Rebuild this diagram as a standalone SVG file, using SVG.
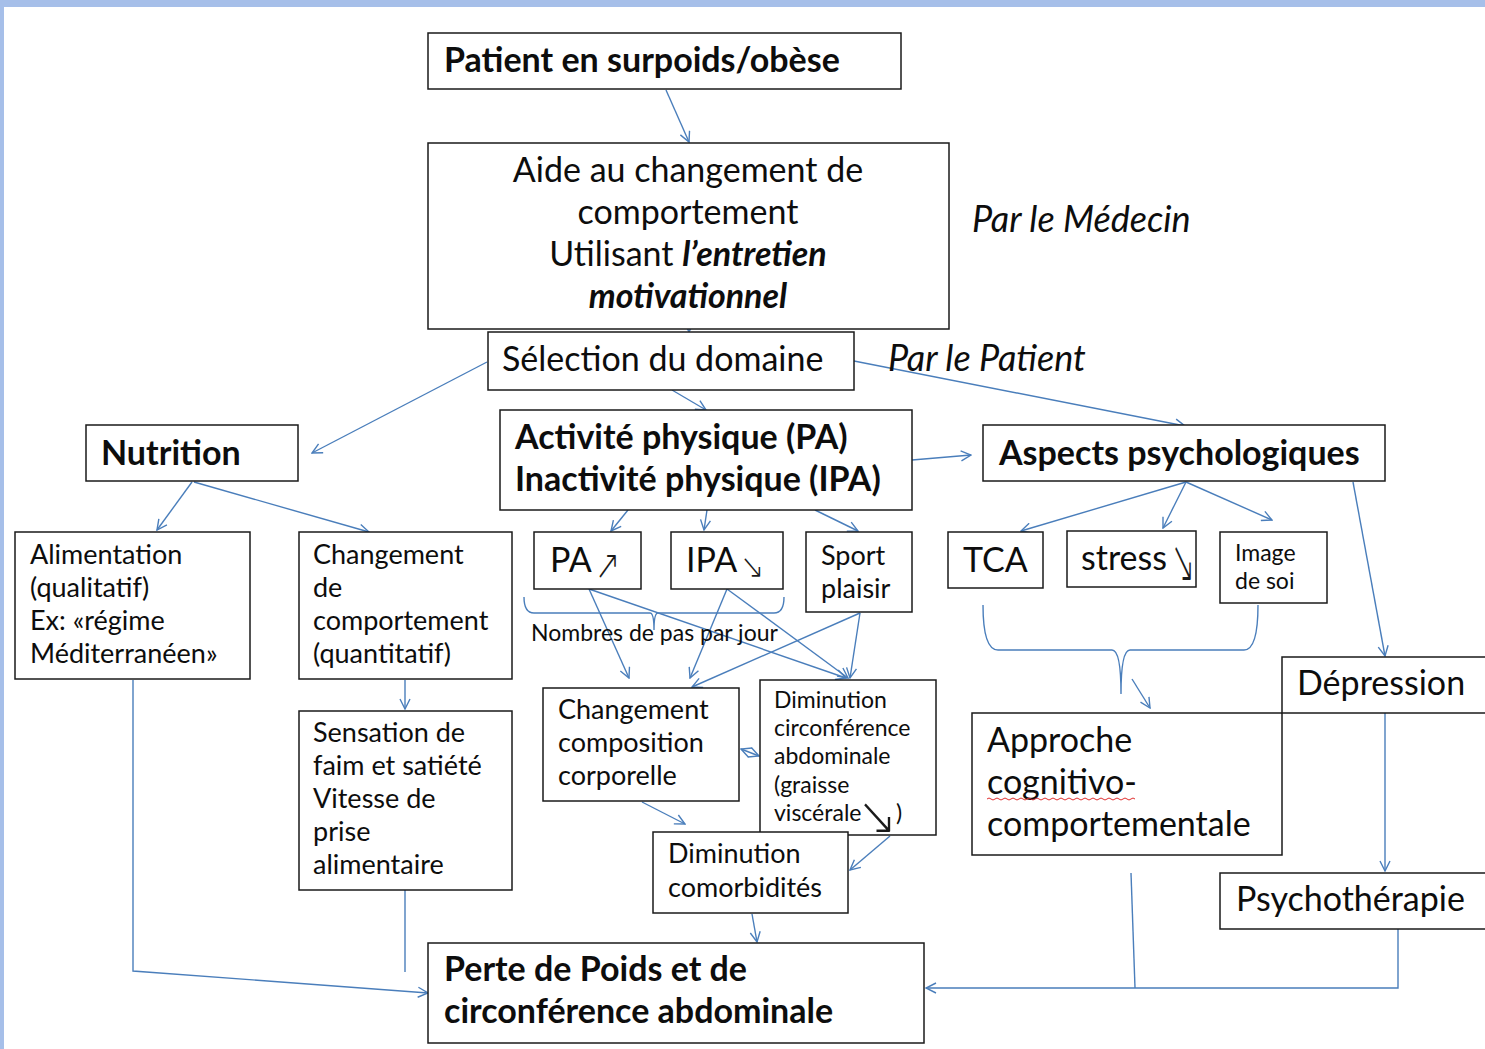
<svg xmlns="http://www.w3.org/2000/svg" width="1485" height="1049" viewBox="0 0 1485 1049">
<style>
.b{fill:#fff;stroke:#1a1a1a;stroke-width:1.5}
.t{font-family:Lato,"Liberation Sans",sans-serif;fill:#0d0d0d}
.l{font-size:34px}
.m{font-size:27px}
.s{font-size:23px}
.bd{font-weight:bold}
.it{font-style:italic;font-size:36px}
.c{fill:none;stroke:#4a7ebb;stroke-width:1.4}
.sym{font-family:"DejaVu Sans",sans-serif;font-weight:200;fill:#1a1a1a}
</style>
<defs>
<marker id="a" markerWidth="12" markerHeight="12" refX="11" refY="6" orient="auto" markerUnits="userSpaceOnUse">
<path d="M1,1 L11,6 L1,11" fill="none" stroke="#4a7ebb" stroke-width="1.4"/>
</marker>
<marker id="as" markerWidth="12" markerHeight="12" refX="1" refY="6" orient="auto" markerUnits="userSpaceOnUse">
<path d="M11,1 L1,6 L11,11" fill="none" stroke="#4a7ebb" stroke-width="1.4"/>
</marker>
</defs>
<rect width="1485" height="1049" fill="#fff"/>
<rect x="0" y="0" width="1485" height="7" fill="#a6bfe9"/>
<rect x="0" y="0" width="4" height="1049" fill="#a6bfe9"/>

<g id="connectors">
<line class="c" x1="666" y1="90" x2="689" y2="142" marker-end="url(#a)"/>
<line class="c" x1="689" y1="318" x2="689" y2="332" marker-end="url(#a)"/>
<line class="c" x1="487" y1="362" x2="312" y2="453" marker-end="url(#a)"/>
<line class="c" x1="672" y1="390" x2="706" y2="410" marker-end="url(#a)"/>
<line class="c" x1="854" y1="361" x2="1185" y2="426" marker-end="url(#a)"/>
<line class="c" x1="912" y1="460" x2="971" y2="455" marker-end="url(#a)"/>
<line class="c" x1="192" y1="482" x2="157" y2="530" marker-end="url(#a)"/>
<line class="c" x1="194" y1="482" x2="369" y2="532" marker-end="url(#a)"/>
<line class="c" x1="628" y1="510" x2="611" y2="531" marker-end="url(#a)"/>
<line class="c" x1="707" y1="510" x2="704" y2="530" marker-end="url(#a)"/>
<line class="c" x1="815" y1="510" x2="858" y2="531" marker-end="url(#a)"/>
<line class="c" x1="1186" y1="482" x2="1021" y2="531" marker-end="url(#a)"/>
<line class="c" x1="1186" y1="482" x2="1163" y2="528" marker-end="url(#a)"/>
<line class="c" x1="1186" y1="482" x2="1272" y2="520" marker-end="url(#a)"/>
<line class="c" x1="1353" y1="482" x2="1385" y2="656" marker-end="url(#a)"/>
<line class="c" x1="405" y1="680" x2="405" y2="709" marker-end="url(#a)"/>
<path class="c" d="M524,597 Q524,613 534,613 L650,613 Q654,613 654,630 Q654,613 658,613 L774,613 Q784,613 784,597"/>
<line class="c" x1="589" y1="589" x2="629" y2="678" marker-end="url(#a)"/>
<line class="c" x1="589" y1="589" x2="846" y2="678" marker-end="url(#a)"/>
<line class="c" x1="727" y1="589" x2="690" y2="678" marker-end="url(#a)"/>
<line class="c" x1="727" y1="589" x2="848" y2="678" marker-end="url(#a)"/>
<line class="c" x1="860" y1="613" x2="692" y2="687" marker-end="url(#a)"/>
<line class="c" x1="860" y1="613" x2="850" y2="678" marker-end="url(#a)"/>
<line class="c" x1="741" y1="749" x2="759" y2="756" marker-start="url(#as)" marker-end="url(#a)"/>
<line class="c" x1="642" y1="802" x2="685" y2="824" marker-end="url(#a)"/>
<line class="c" x1="890" y1="836" x2="850" y2="870" marker-end="url(#a)"/>
<line class="c" x1="752" y1="914" x2="757" y2="942" marker-end="url(#a)"/>
<polyline class="c" points="133,680 133,971 428,993" marker-end="url(#a)"/>
<line class="c" x1="405" y1="890" x2="405" y2="972"/>
<path class="c" d="M983,605 Q983,650 998,650 L1112,650 Q1121,650 1121,694 Q1121,650 1130,650 L1244,650 Q1258,650 1258,605"/>
<line class="c" x1="1132" y1="679" x2="1150" y2="708" marker-end="url(#a)"/>
<line class="c" x1="1131" y1="873" x2="1135" y2="988"/>
<polyline class="c" points="1398,929 1398,988 926,988" marker-end="url(#a)"/>
<line class="c" x1="1385" y1="713" x2="1385" y2="871" marker-end="url(#a)"/>
</g>

<g id="patient"><rect class="b" x="428" y="33" width="473" height="56"/>
<text class="t l bd" x="444" y="72">Patient en surpoids/obèse</text></g>

<g id="aide"><rect class="b" x="428" y="143" width="521" height="186"/>
<text class="t l" text-anchor="middle" x="688" y="182">Aide au changement de</text>
<text class="t l" text-anchor="middle" x="688" y="224">comportement</text>
<text class="t l" text-anchor="middle" x="688" y="266">Utilisant <tspan font-weight="bold" font-style="italic">l’entretien</tspan></text>
<text class="t l bd" font-style="italic" text-anchor="middle" x="688" y="308">motivationnel</text></g>

<text id="par-medecin" class="t it" x="972" y="232">Par le Médecin</text>

<g id="selection"><rect class="b" x="488" y="332" width="366" height="58"/>
<text class="t l" x="502" y="371">Sélection du domaine</text></g>

<text id="par-patient" class="t it" x="888" y="371">Par le Patient</text>

<g id="nutrition"><rect class="b" x="86" y="425" width="212" height="56"/>
<text class="t l bd" x="101" y="465">Nutrition</text></g>

<g id="activite"><rect class="b" x="500" y="410" width="412" height="100"/>
<text class="t l bd" x="515" y="449">Activité physique (PA)</text>
<text class="t l bd" x="515" y="491">Inactivité physique (IPA)</text></g>

<g id="aspects"><rect class="b" x="983" y="425" width="402" height="56"/>
<text class="t l bd" x="999" y="465">Aspects psychologiques</text></g>

<g id="alimentation"><rect class="b" x="15" y="532" width="235" height="147"/>
<text class="t m" x="30" y="564">Alimentation</text>
<text class="t m" x="30" y="597">(qualitatif)</text>
<text class="t m" x="30" y="630">Ex: «régime</text>
<text class="t m" x="30" y="663">Méditerranéen»</text></g>

<g id="chgt-comportement"><rect class="b" x="299" y="532" width="213" height="147"/>
<text class="t m" x="313" y="564">Changement</text>
<text class="t m" x="313" y="597">de</text>
<text class="t m" x="313" y="630">comportement</text>
<text class="t m" x="313" y="663">(quantitatif)</text></g>

<g id="pa"><rect class="b" x="534" y="532" width="107" height="57"/>
<text class="t l" x="550" y="572">PA</text>
<text class="sym" font-size="40" transform="translate(595,579) scale(0.75,1.05)">↗</text></g>

<g id="ipa"><rect class="b" x="671" y="532" width="112" height="57"/>
<text class="t l" x="686" y="572">IPA</text>
<text class="sym" font-size="34" transform="translate(740,578) scale(0.85,1)">↘</text></g>

<g id="sport"><rect class="b" x="806" y="532" width="106" height="80"/>
<text class="t m" x="821" y="565">Sport</text>
<text class="t m" x="821" y="598">plaisir</text></g>

<g id="tca"><rect class="b" x="948" y="532" width="95" height="56"/>
<text class="t l" x="963" y="572">TCA</text></g>

<g id="stress"><rect class="b" x="1067" y="531" width="129" height="56"/>
<text class="t l" x="1081" y="570">stress</text>
<text class="sym" font-size="38" transform="translate(1171,582) scale(0.75,1.6)">↘</text></g>

<g id="image"><rect class="b" x="1220" y="532" width="107" height="71"/>
<text class="t s" x="1235" y="561">Image</text>
<text class="t s" x="1235" y="589">de soi</text></g>

<text id="nombres" class="t" font-size="23" x="531" y="641">Nombres de pas par jour</text>

<g id="composition"><rect class="b" x="543" y="688" width="196" height="113"/>
<text class="t m" x="558" y="719">Changement</text>
<text class="t m" x="558" y="752">composition</text>
<text class="t m" x="558" y="785">corporelle</text></g>

<g id="circonference"><rect class="b" x="760" y="680" width="176" height="155"/>
<text class="t s" x="774" y="708">Diminution</text>
<text class="t s" x="774" y="736">circonférence</text>
<text class="t s" x="774" y="764">abdominale</text>
<text class="t s" x="774" y="793">(graisse</text>
<text class="t s" x="774" y="821">viscérale</text>
<text class="sym" font-size="48" transform="translate(857,834) scale(1,1.1)">↘</text>
<text class="t s" x="896" y="821">)</text></g>

<g id="comorbidites"><rect class="b" x="653" y="832" width="195" height="81"/>
<text class="t m" x="668" y="863">Diminution</text>
<text class="t m" x="668" y="897">comorbidités</text></g>

<g id="sensation"><rect class="b" x="299" y="711" width="213" height="179"/>
<text class="t m" x="313" y="742">Sensation de</text>
<text class="t m" x="313" y="775">faim et satiété</text>
<text class="t m" x="313" y="808">Vitesse de</text>
<text class="t m" x="313" y="841">prise</text>
<text class="t m" x="313" y="874">alimentaire</text></g>

<g id="approche"><rect class="b" x="972" y="713" width="310" height="142"/>
<text class="t l" x="987" y="752">Approche</text>
<text class="t l" x="987" y="794">cognitivo-</text>
<path d="M987,799 q2,-2 4,0 t4,0 t4,0 t4,0 t4,0 t4,0 t4,0 t4,0 t4,0 t4,0 t4,0 t4,0 t4,0 t4,0 t4,0 t4,0 t4,0 t4,0 t4,0 t4,0 t4,0 t4,0 t4,0 t4,0 t4,0 t4,0 t4,0 t4,0 t4,0 t4,0 t4,0 t4,0 t4,0 t4,0 t4,0 t4,0 t4,0" fill="none" stroke="#e03030" stroke-width="1"/>
<text class="t l" x="987" y="836">comportementale</text></g>

<g id="depression"><rect class="b" x="1282" y="657" width="210" height="56"/>
<text class="t l" x="1297" y="695">Dépression</text></g>

<g id="psychotherapie"><rect class="b" x="1220" y="873" width="272" height="56"/>
<text class="t l" x="1236" y="911">Psychothérapie</text></g>

<g id="perte"><rect class="b" x="428" y="943" width="496" height="100"/>
<text class="t l bd" x="444" y="981">Perte de Poids et de</text>
<text class="t l bd" x="444" y="1023">circonférence abdominale</text></g>
</svg>
